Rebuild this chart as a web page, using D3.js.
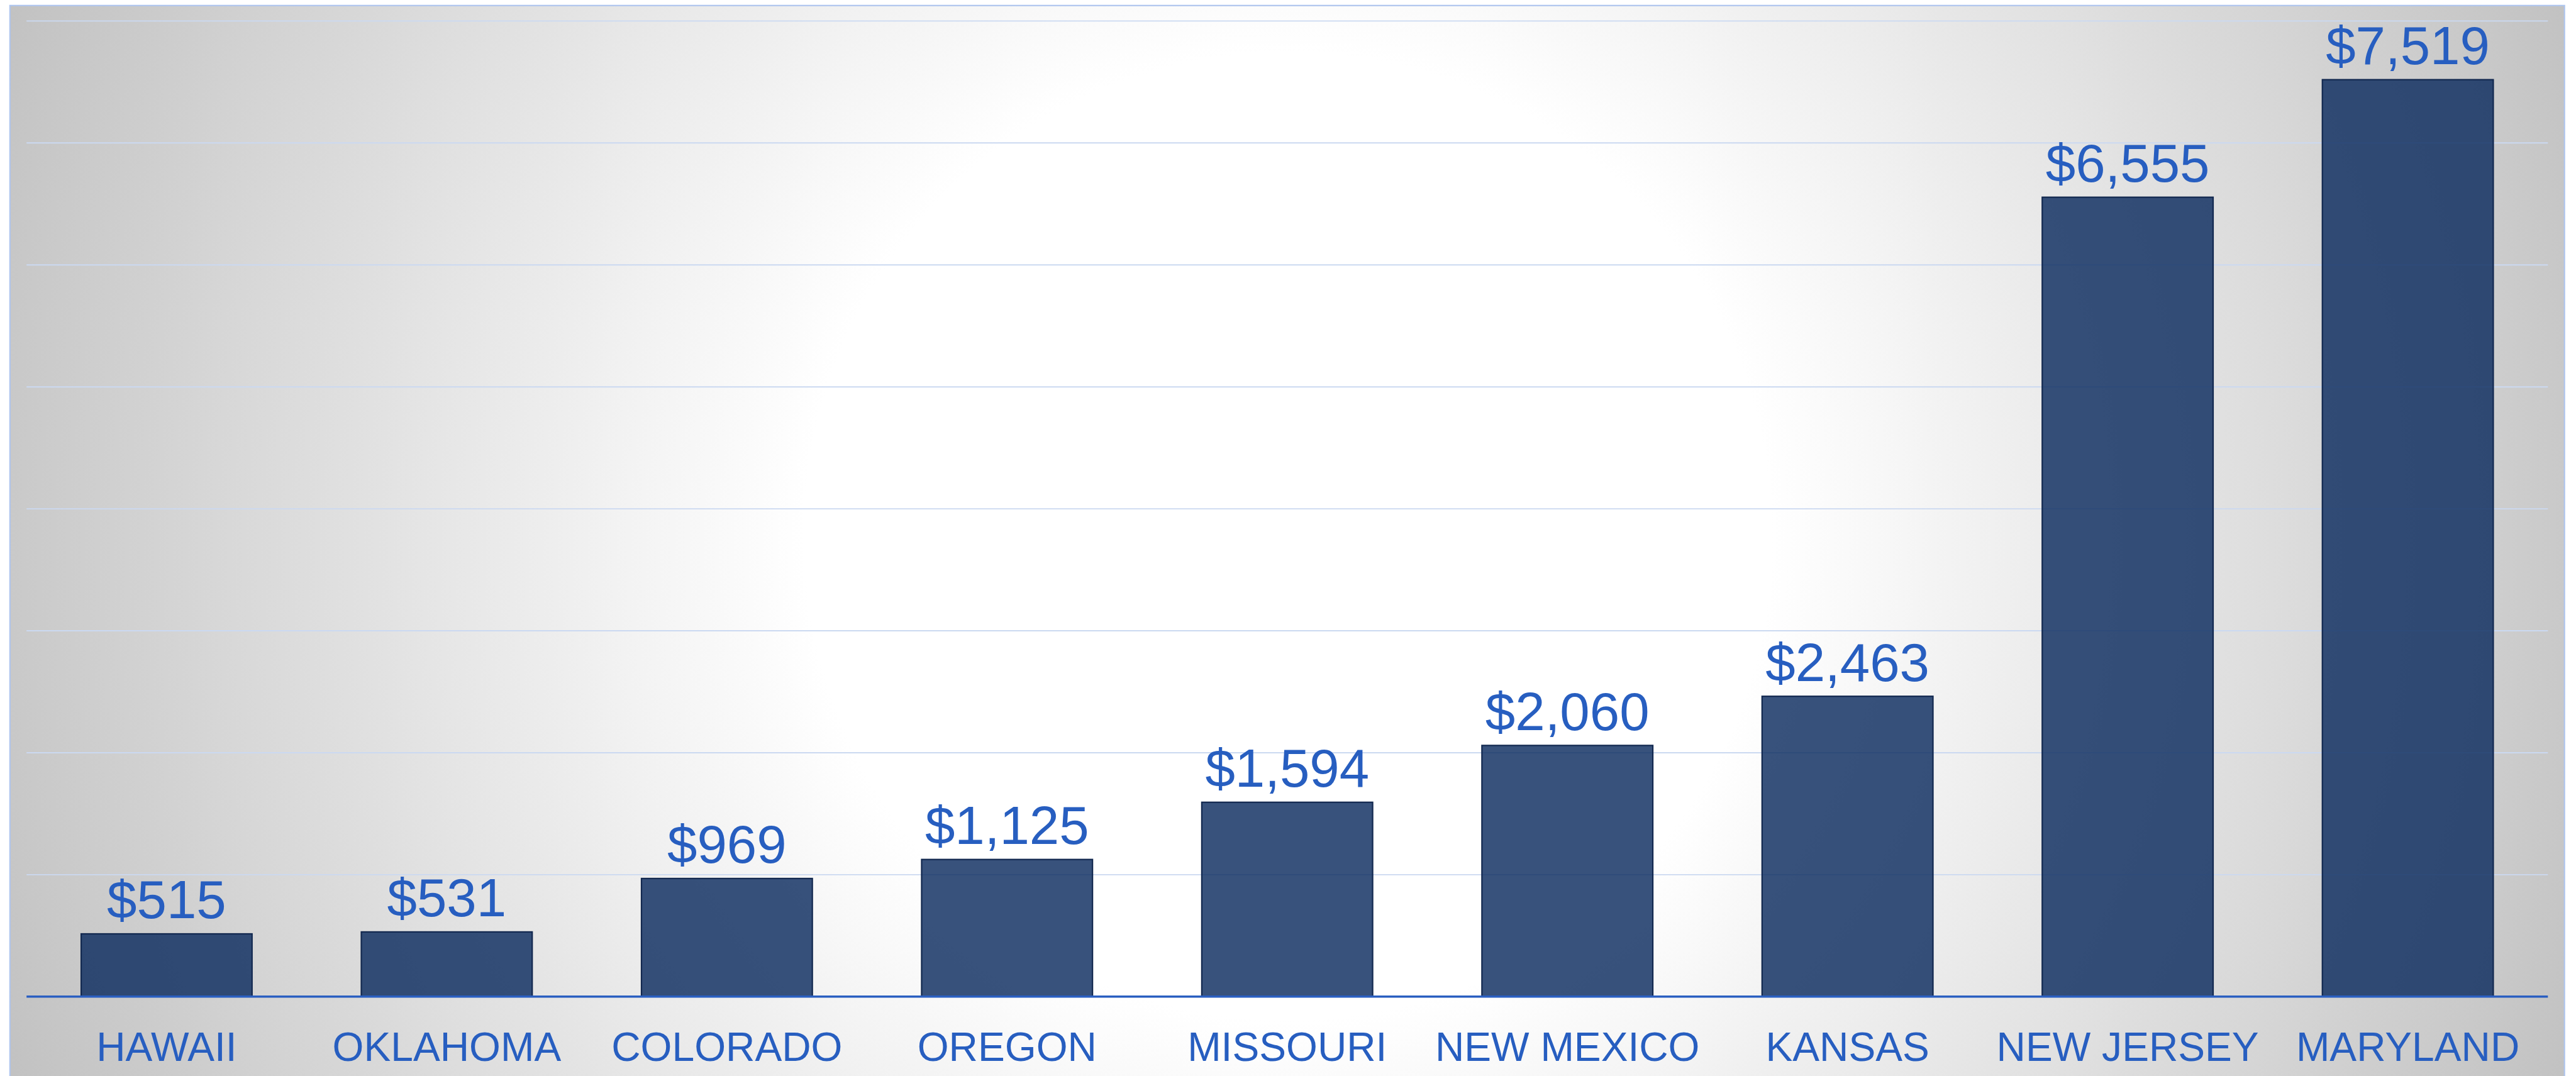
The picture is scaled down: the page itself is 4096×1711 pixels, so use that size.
<!DOCTYPE html>
<html>
<head>
<meta charset="utf-8">
<script src="https://cdn.jsdelivr.net/npm/d3@7"></script>
<style>
  html, body { margin: 0; padding: 0; background: #ffffff; overflow: hidden; }
  text { font-family: "Liberation Sans", Arial, sans-serif; }
</style>
</head>
<body>
<div id="chart"></div>
<script>
var states = ["HAWAII", "OKLAHOMA", "COLORADO", "OREGON", "MISSOURI",
              "NEW MEXICO", "KANSAS", "NEW JERSEY", "MARYLAND"];
var amounts = [515, 531, 969, 1125, 1594, 2060, 2463, 6555, 7519];
var yDomain = [0, 8000];

function init() {

    var k = 0.879;            // reference -> window
    var W = 4656, H = 1945;   // reference size

    var frame = { left: 18, top: 10, right: 4639, bottom: 1990 };
    var plot = { left: 48, top: 38, right: 4609, bottom: 1803 };

    var blue = "#275ec0";

    var svg = d3.select("#chart")
        .append("svg")
        .attr("width", 4096)
        .attr("height", 1711);

    var defs = svg.append("defs");
    var grad = defs.append("radialGradient")
        .attr("id", "bg")
        .attr("gradientUnits", "userSpaceOnUse")
        .attr("cx", 2330).attr("cy", 970)
        .attr("r", 2500);
    grad.append("stop").attr("offset", "0%").attr("stop-color", "#ffffff");
    grad.append("stop").attr("offset", "35%").attr("stop-color", "#ffffff");
    grad.append("stop").attr("offset", "100%").attr("stop-color", "#c2c2c2");

    var g = svg.append("g")
        .attr("transform", "scale(" + k + ")");

    g.append("rect")
        .attr("x", frame.left)
        .attr("y", frame.top)
        .attr("width", frame.right - frame.left)
        .attr("height", frame.bottom - frame.top)
        .attr("fill", "url(#bg)")
        .attr("stroke", "#afc5ee")
        .attr("stroke-width", 2.5);

    var x = d3.scaleBand()
        .domain(states)
        .range([plot.left, plot.right])
        .paddingInner(0.39)
        .paddingOuter(0.195);

    var y = d3.scaleLinear()
        .domain(yDomain)
        .range([plot.bottom, plot.top]);

    // gridlines
    g.selectAll("line.grid")
        .data(y.ticks(8).filter(function (d) { return d > 0; }))
        .enter()
        .append("line")
        .attr("class", "grid")
        .attr("x1", plot.left)
        .attr("x2", plot.right)
        .attr("y1", function (d) { return y(d); })
        .attr("y2", function (d) { return y(d); })
        .attr("stroke", "#cbd9f1")
        .attr("stroke-width", 2.2);

    var bars = g.selectAll("g.bar")
        .data(amounts)
        .enter()
        .append("g")
        .attr("class", "bar");

    bars.append("rect")
        .attr("x", function (d, i) { return x(states[i]); })
        .attr("y", function (d) { return y(d); })
        .attr("width", x.bandwidth())
        .attr("height", function (d) { return plot.bottom - y(d); })
        .attr("fill", "#06275b")
        .attr("fill-opacity", 0.8)
        .attr("stroke", "#12284f")
        .attr("stroke-width", 2.5);

    bars.append("text")
        .attr("x", function (d, i) { return x(states[i]) + x.bandwidth() / 2; })
        .attr("y", function (d) { return y(d) - 28; })
        .attr("text-anchor", "middle")
        .attr("font-size", 97)
        .attr("fill", blue)
        .text(function (d) { return "$" + d3.format(",")(d); });

    // baseline
    g.append("line")
        .attr("x1", plot.left)
        .attr("x2", plot.right)
        .attr("y1", plot.bottom)
        .attr("y2", plot.bottom)
        .attr("stroke", "#2a5fc1")
        .attr("stroke-width", 4);

    // category labels
    g.selectAll("text.cat")
        .data(states)
        .enter()
        .append("text")
        .attr("class", "cat")
        .attr("x", function (d) { return x(d) + x.bandwidth() / 2; })
        .attr("y", 1919)
        .attr("text-anchor", "middle")
        .attr("font-size", 73)
        .attr("fill", blue)
        .text(function (d) { return d; });
}

init();
</script>
</body>
</html>
